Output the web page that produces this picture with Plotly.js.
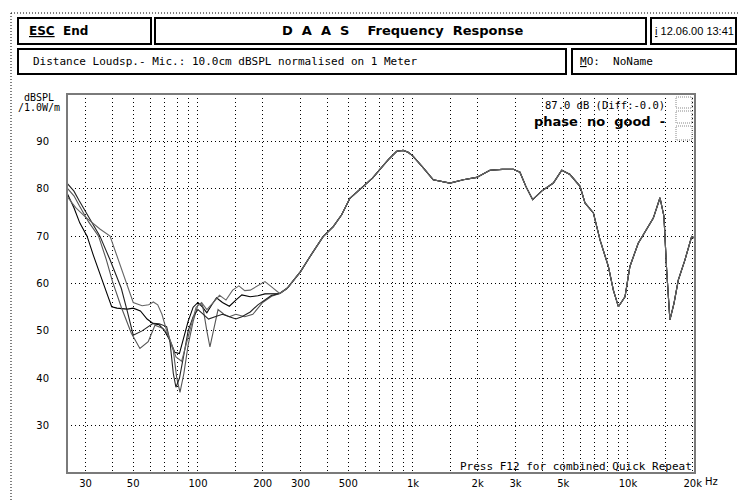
<!DOCTYPE html>
<html><head><meta charset="utf-8">
<script src="https://cdn.plot.ly/plotly-3.0.1.min.js"></script>
<style>html,body{margin:0;padding:0;background:#fff;}#chart{width:739px;height:502px;}</style>
</head><body><div id="chart"></div>
<script>
// ---- data ----
const curveNames = ['Meas 1','Meas 2','Meas 3','Meas 4'];
const lowFreqA = [24.6,26.5,28.2,30.5,32.6,34.5,36.3,38,39.7,42,44.2,47,50,54,58,62,66,70,74,78,82,86,90,95,100,105,110,116,122,130,140,150,160,175,190,205,220,240];
const lowDbA   = [79.1,76,72.8,70,66,63,60,57.5,55.1,54.8,54.7,54.6,54.8,54.2,52.5,51.5,51.3,50,48,45.5,45.2,48.5,52,55,56,55,53.8,55.5,57,56,55.2,56.5,57.6,57.2,57.4,57.8,57.8,57.9];
const lowFreqB = [24.6,26.5,28,31,34.5,37.5,40,44,49,53.7,58.7,63.1,68.9,72,76.8,79.6,82.5,86,90,95,100,105,110,113.7,118,124,132,140,150,165,180,200,220,240];
const lowDbB   = [80.2,78.5,76.5,73,70,65,60.5,55,49.5,46.3,47.7,51.2,50.5,49.4,45.9,40.2,37,41,47,52,55.5,55.5,50,46.6,50,54.5,53.5,53,53.5,53,53.5,56,57.3,57.9];
const lowFreqC = [24.6,26.5,28,31.5,35,39,44,47,50,55,61.9,66,71.5,74,76.8,79,82,86,90,95,100,106,112,120,130,140,150,160,175,190,205,220,240];
const lowDbC   = [81.2,79.5,77.5,73.5,70,65,59,54,49.1,50,51.6,51.5,50.9,48,41,38.1,40,45,50,53,54.5,53.5,52.5,53,53.5,53,52.5,53,54,55.5,56.5,57.5,57.9];
const lowFreqD = [24.6,27,30,35,39,43,46.6,50,55,59,62,65,68,71,75,79,84,88,93,98,104,110,118,126,135,145,155,165,175,190,205,220,240];
const lowDbD   = [78.4,76,74,71.5,70,64.5,60,56,55.3,55.5,56.1,55.5,53.5,50.5,47.5,44.5,43.6,47,51.5,55,56,54.5,56,57.5,56.5,58.6,59.5,58.5,58.6,59.5,60.4,59.3,57.9];
const highFreq = [260,280,300,330,382,426,466,509,587,650,702,770,840,901,950,1000,1117,1243,1486,1715,1978,2280,2600,2930,3145,3350,3605,3966,4497,4920,5377,5985,6310,6904,7413,8105,8551,9025,9687,10210,11160,12210,13120,14090,14700,15130,15670,16370,17140,18410,19780,20400];
const highDb   = [59,60.8,62.5,65.5,69.9,72,74.5,78,80.5,82.3,84.1,86.2,87.9,88.1,87.7,86.9,84.4,81.9,81.2,81.9,82.4,83.9,84.1,84.1,83.5,80.5,77.7,79.5,81.2,83.9,83,80.5,77,74.9,69.2,63.6,58.6,55.1,57.2,63.6,68.5,71.3,73.8,78.1,74.2,62.9,52.3,55.8,60.7,65,69.9,69.6];
const curveColors = ['#000000','#555555','#222222','#666666'];

const gridFreqs = [30,40,50,60,70,80,90,100,150,200,300,400,500,600,700,800,900,1000,1500,2000,3000,4000,5000,6000,7000,8000,9000,10000,15000,20000];
const gridText  = ['30','','50','','','','','100','','200','300','','500','','','','','1k','','2k','3k','','5k','','','','','10k','','20k'];
const yTicks = [30,40,50,60,70,80,90];

// ---- layout helpers (pixel -> paper) ----
const L=67, R=695, T=94, B=473;
const X = p => (p-L)/(R-L);
const Y = p => (B-p)/(B-T);

const lows = [[lowFreqA,lowDbA],[lowFreqB,lowDbB],[lowFreqC,lowDbC],[lowFreqD,lowDbD]];
const traces = lows.map((lw,i)=>({
  type:'scatter', mode:'lines', name:curveNames[i],
  x: lw[0].concat(highFreq), y: lw[1].concat(highDb),
  line:{color:curveColors[i], width:1.1}, hoverinfo:'skip'
}));

const F = 'DejaVu Sans, Liberation Sans, sans-serif';
const M = 'DejaVu Sans Mono, Liberation Mono, monospace';
const N = 'Liberation Sans, Arial, sans-serif';
function box(x0,y0,x1,y1){return {type:'rect',xref:'paper',yref:'paper',x0:X(x0),x1:X(x1),y0:Y(y0),y1:Y(y1),line:{color:'#000',width:2},fillcolor:'rgba(0,0,0,0)'};}
function ln(x0,y0,x1,y1,w,dash,col){return {type:'line',xref:'paper',yref:'paper',x0:X(x0),x1:X(x1),y0:Y(y0),y1:Y(y1),line:{color:col||'#000',width:w||1,dash:dash||'solid'}};}
function txt(t,x,y,xa,size,bold,fam){return {xref:'paper',yref:'paper',x:X(x),y:Y(y),xanchor:xa||'left',yanchor:'middle',showarrow:false,text:bold?'<b>'+t+'</b>':t,font:{family:fam||F,size:size||11,color:'#000'}};}

const shapes = [
  ln(11,13,739,13,1,'1px,2px'),
  ln(11,13,11,502,1,'1px,2px'),
  box(18,18,151,44), box(155,18,646,44), box(651,18,736,44),
  box(18,49,566,74), box(572,49,736,74),
  {type:'rect',xref:'paper',yref:'paper',x0:0,x1:1,y0:0,y1:1,line:{color:'#7a7a7a',width:2},fillcolor:'rgba(0,0,0,0)'},
  {type:'rect',xref:'paper',yref:'paper',x0:X(676),x1:X(692),y0:Y(97),y1:Y(108),line:{color:'#888',width:1,dash:'1px,1px'},fillcolor:'rgba(0,0,0,0)'},
  {type:'rect',xref:'paper',yref:'paper',x0:X(676),x1:X(692),y0:Y(111),y1:Y(123),line:{color:'#888',width:1,dash:'1px,1px'},fillcolor:'rgba(0,0,0,0)'},
  {type:'rect',xref:'paper',yref:'paper',x0:X(676),x1:X(692),y0:Y(126),y1:Y(140),line:{color:'#888',width:1,dash:'1px,1px'},fillcolor:'rgba(0,0,0,0)'}
];

const annotations = [
  txt('<span style="text-decoration:underline">ESC</span>&nbsp;&nbsp;End',27,31,'left',12,true),
  txt('D&nbsp;&nbsp;A&nbsp;&nbsp;A&nbsp;&nbsp;S&nbsp;&nbsp;&nbsp;&nbsp;Frequency&nbsp;&nbsp;Response',402,31,'center',13,true),
  txt('<span style="text-decoration:underline">i</span>&nbsp;12.06.00 13:41',653,31,'left',11,false,N),
  txt('Distance Loudsp.- Mic.: 10.0cm dBSPL normalised on 1 Meter',31,61,'left',11,false,M),
  txt('<span style="text-decoration:underline">M</span>O:&nbsp;&nbsp;NoName',578,61,'left',11,false,M),
  txt('dBSPL',39,97,'center',10,false,M),
  txt('/1.0W/m',39,108,'center',10,false,M),
  txt('87.0 dB (Diff:-0.0)',667,105,'right',10.5,false,M),
  txt('phase&nbsp;&nbsp;no&nbsp;&nbsp;good&nbsp;&nbsp;-',667,121,'right',13,true),
  txt('Press F12 for combined Quick Repeat',694,466,'right',11,false,M),
  txt('Hz',703,481,'left',10,false)
];

const layout = {
  width:739, height:502,
  margin:{l:L, r:739-R, t:T, b:502-B, pad:0},
  paper_bgcolor:'#fff', plot_bgcolor:'#fff',
  showlegend:false,
  font:{family:F, size:10, color:'#000'},
  xaxis:{type:'log', range:[Math.log10(24.6), Math.log10(20500)],
    tickmode:'array', tickvals:gridFreqs, ticktext:gridText,
    showgrid:true, gridcolor:'#000', gridwidth:1, griddash:'1px,3px',
    zeroline:false, showline:false, ticks:'', ticklabelstandoff:3,
    tickfont:{family:F,size:10,color:'#000'}, fixedrange:true},
  yaxis:{range:[20,100], tickmode:'array', tickvals:yTicks,
    showgrid:true, gridcolor:'#000', gridwidth:1, griddash:'1px,3px',
    zeroline:false, showline:false, ticks:'', ticklabelstandoff:17,
    tickfont:{family:F,size:10,color:'#000'}, fixedrange:true},
  shapes:shapes, annotations:annotations
};
Plotly.newPlot('chart', traces, layout, {staticPlot:true, displayModeBar:false});
</script></body></html>
